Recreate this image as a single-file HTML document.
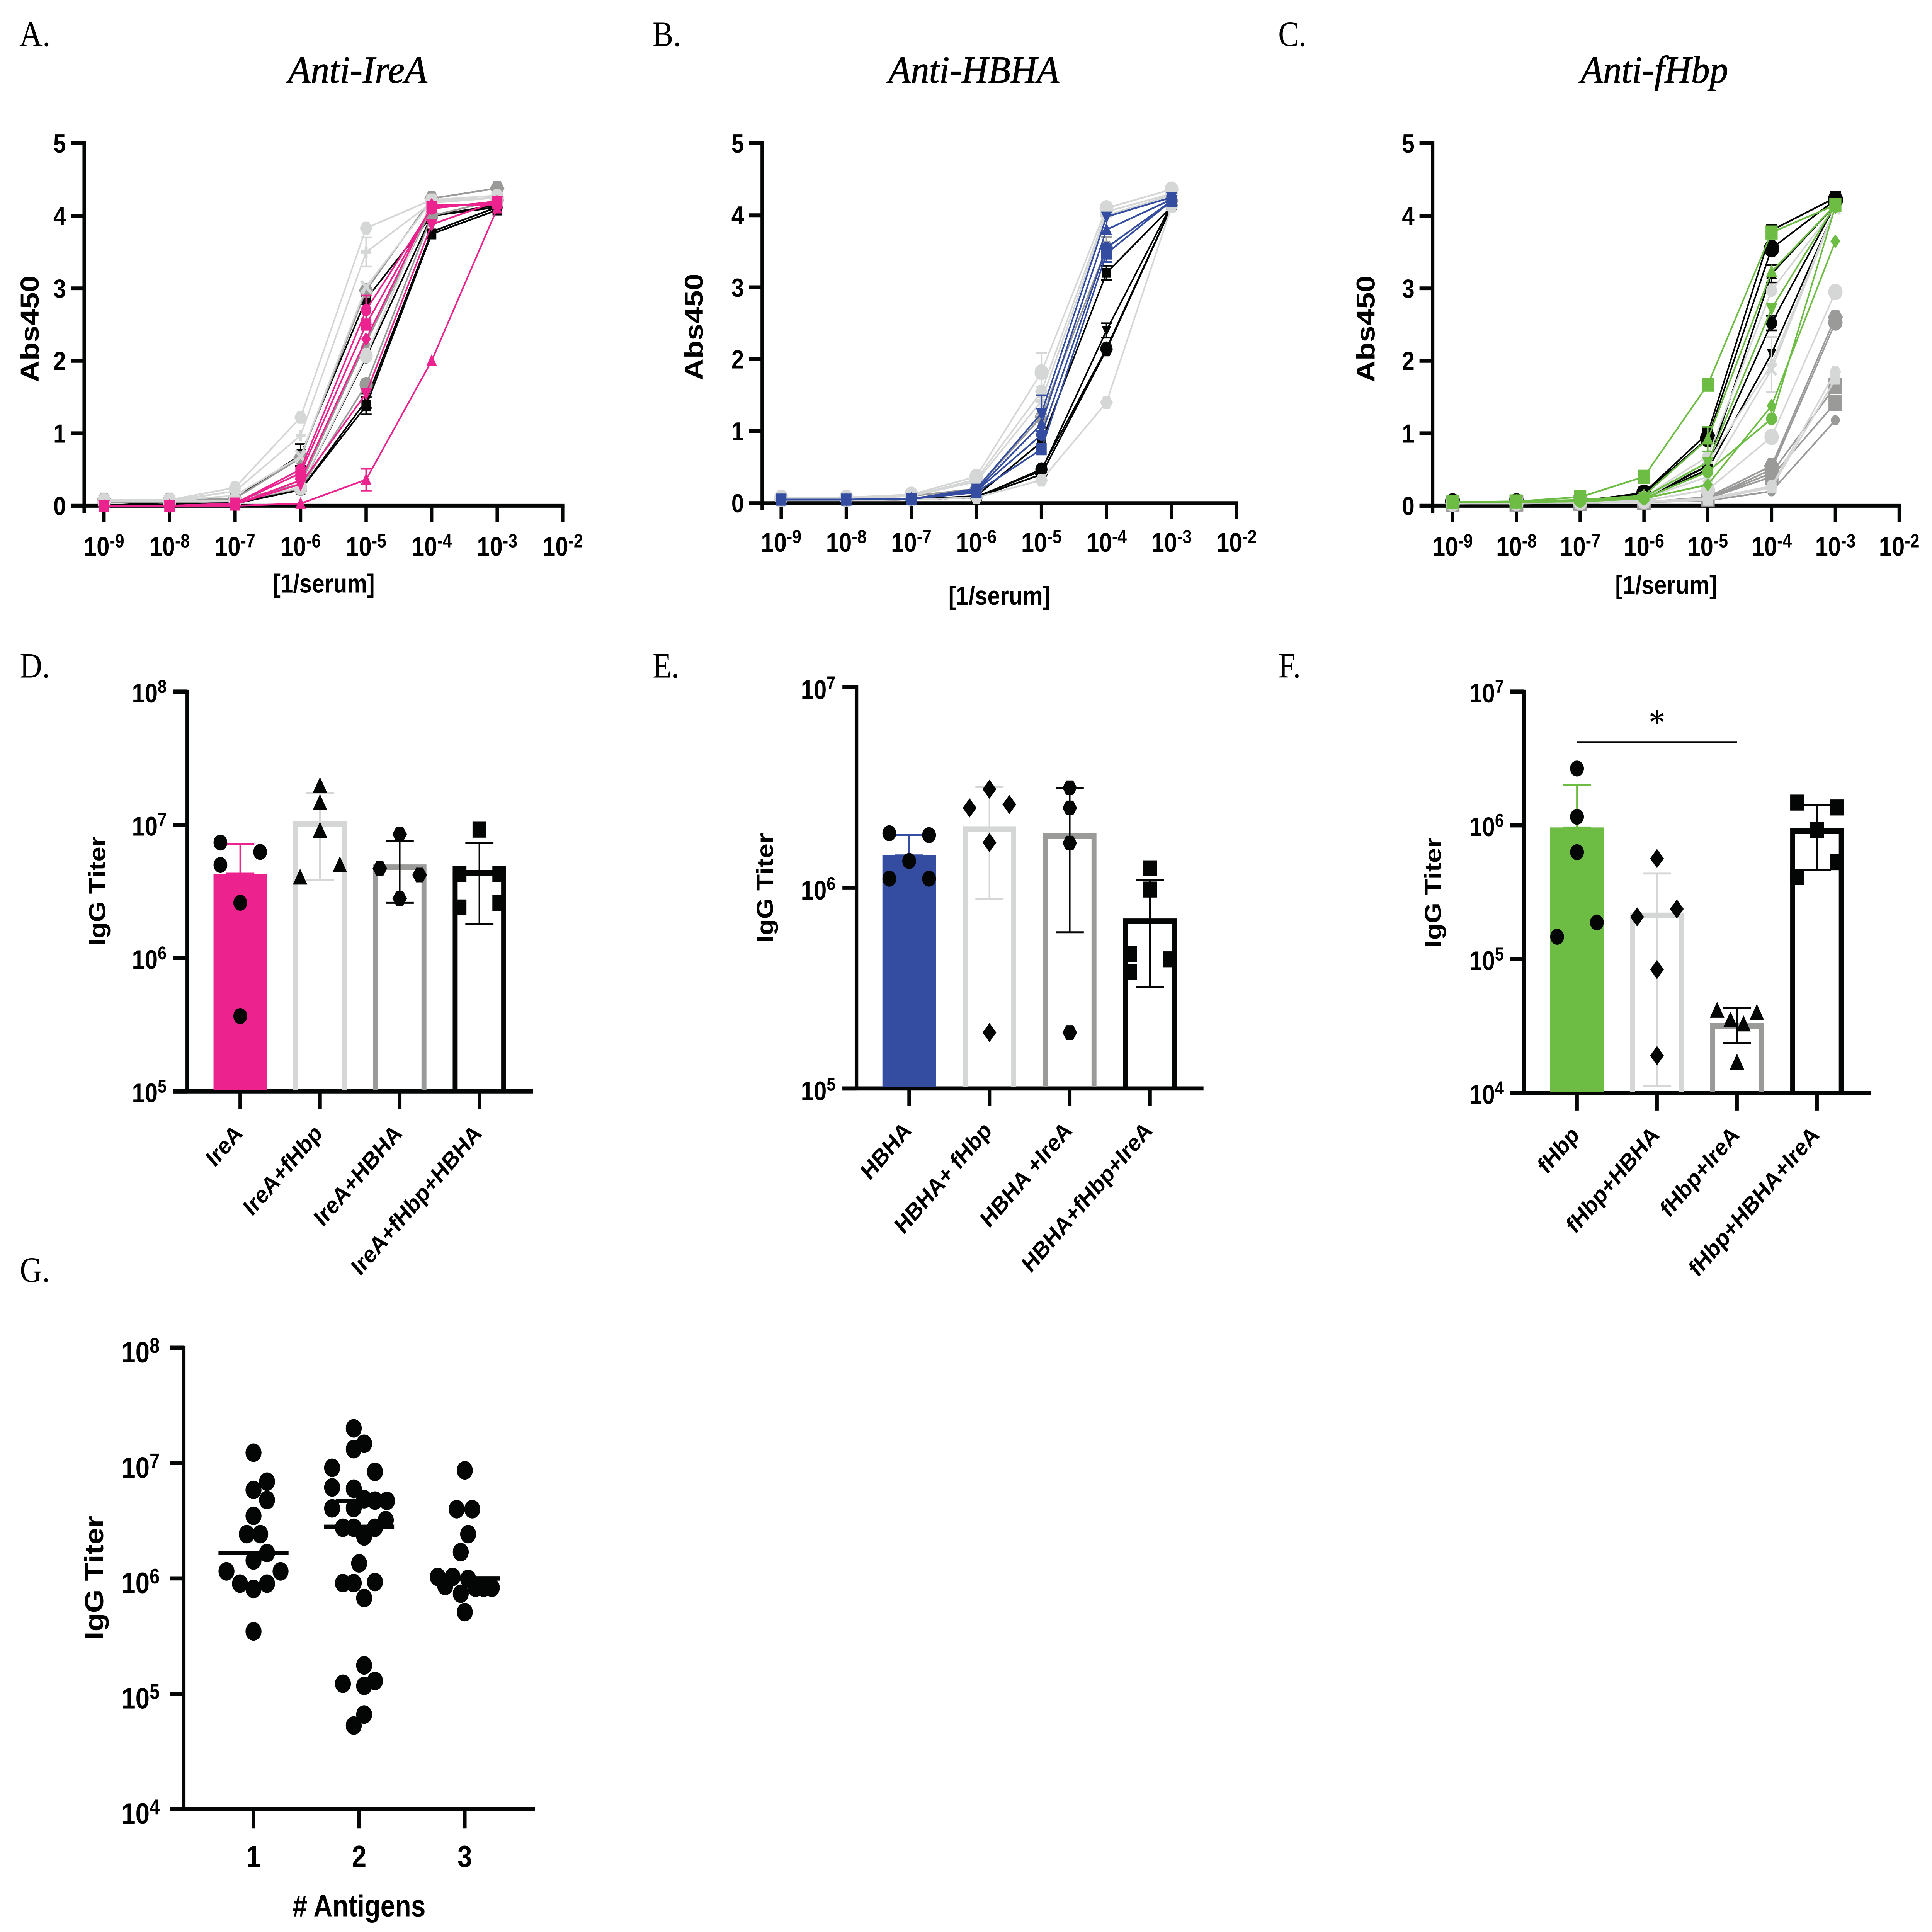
<!DOCTYPE html>
<html lang="en">
<head>
<meta charset="utf-8">
<title>IgG titer figure</title>
<style>
html,body{margin:0;padding:0;background:#fff;width:100%;height:100%;overflow:hidden;}
svg{display:block;width:100vw;height:100vh;}
text{font-family:"Liberation Sans",sans-serif;fill:#000;}
.serif{font-family:"Liberation Serif",serif;font-weight:400;}
.title{font-family:"Liberation Serif",serif;font-style:italic;font-size:120px;stroke:#000;stroke-width:1.5px;}
.letter{font-family:"Liberation Serif",serif;font-size:112px;}
.bold{font-weight:700;}
</style>
</head>
<body>
<svg id="fig" xmlns="http://www.w3.org/2000/svg" viewBox="0 0 7004 6051" preserveAspectRatio="none">
<rect x="0" y="0" width="7004" height="6051" fill="#fff"/>
<text class="letter" x="70" y="144" textLength="113" lengthAdjust="spacingAndGlyphs">A.</text>
<text class="letter" x="2366" y="144">B.</text>
<text class="letter" x="4634" y="144">C.</text>
<text class="letter" x="72" y="2122">D.</text>
<text class="letter" x="2366" y="2122">E.</text>
<text class="letter" x="4634" y="2122">F.</text>
<text class="letter" x="72" y="4014">G.</text>
<text class="title" x="1044" y="259" textLength="505" lengthAdjust="spacingAndGlyphs">Anti-IreA</text>
<text class="title" x="3221" y="259" textLength="619" lengthAdjust="spacingAndGlyphs">Anti-HBHA</text>
<text class="title" x="5730" y="259" textLength="535" lengthAdjust="spacingAndGlyphs">Anti-fHbp</text>
<g id="panel-a"></g>
<g id="panel-b"></g>
<g id="panel-c"></g>
<g id="panel-d"></g>
<g id="panel-e"></g>
<g id="panel-f"></g>
<g id="panel-g"></g>
</svg>
<script>
/* ---------- shared axis data ---------- */
const dilutionPoints = [-9,-8,-7,-6,-5,-4,-3];
const dilutionTicks = [-9,-8,-7,-6,-5,-4,-3,-2];
const absTicks = [0,1,2,3,4,5];

/* ---------- panel A values ---------- */
const aValues = [
 [0,0,0.03,0.22,1.38,3.75,4.08],
 [0,0.02,0.04,0.22,1.45,3.78,4.12],
 [0,0,0.05,0.25,2.05,4.0,4.12],
 [0,0.05,0.1,0.7,2.85,4.0,4.15],
 [0.05,0.05,0.06,0.24,1.67,4.0,4.22],
 [0.05,0.05,0.07,0.3,2.25,4.1,4.2],
 [0.08,0.08,0.1,0.66,2.97,4.24,4.38],
 [0.06,0.06,0.07,0.25,2.07,4.2,4.25],
 [0.07,0.07,0.14,0.68,3.02,4.2,4.25],
 [0.07,0.07,0.2,0.97,3.5,4.18,4.25],
 [0.08,0.08,0.25,1.22,3.83,4.22,4.28],
 [0,0,0,0.03,0.36,2.0,4.1],
 [0,0,0.02,0.3,1.55,3.88,4.2],
 [0,0,0.02,0.35,2.3,4.15,4.15],
 [0,0,0.03,0.5,2.7,4.1,4.2],
 [0,0,0.03,0.45,2.5,4.12,4.18]
];
const aErrSeries = [0,1,3,9,14,11];
const aErrPoint = [4,4,3,4,4,4];
const aErrValue = [0.12,0.1,0.15,0.2,0.2,0.15];
const aColors = ['black','black','black','black','gray','gray','gray','light','light','light','light','pink','pink','pink','pink','pink'];
const aShapes = ['square','up','circle','square','circle','up','hex','circle','x','plus','hex','up','down','diamond','circle','square'];
const aSizes = [17,17,20,18,24,20,25,24,22,18,22,18,20,18,19,19];

/* ---------- panel B values ---------- */
const bValues = [
 [0.04,0.05,0.05,0.1,0.85,3.2,4.12],
 [0.04,0.04,0.05,0.08,0.47,2.15,4.13],
 [0.04,0.04,0.05,0.09,0.45,2.4,4.15],
 [0.04,0.04,0.05,0.08,0.4,2.13,4.12],
 [0.05,0.06,0.1,0.2,1.2,3.55,4.2],
 [0.04,0.04,0.05,0.08,0.32,1.4,4.12],
 [0.06,0.06,0.1,0.3,1.42,4.0,4.28],
 [0.06,0.08,0.1,0.33,1.55,4.05,4.3],
 [0.08,0.08,0.12,0.37,1.82,4.1,4.36],
 [0.05,0.05,0.06,0.2,1.25,3.98,4.25],
 [0.05,0.05,0.06,0.18,1.1,3.8,4.22],
 [0.05,0.05,0.06,0.17,0.95,3.55,4.2],
 [0.05,0.05,0.06,0.15,0.75,3.47,4.2]
];
const bErrSeries = [0,2,4,6,8,9,12];
const bErrPoint = [5,5,5,4,4,4,5];
const bErrValue = [0.1,0.1,0.15,0.2,0.27,0.25,0.12];
const bColors = ['black','black','black','black','gray','light','light','light','light','blue','blue','blue','blue'];
const bShapes = ['square','circle','down','hex','hex','hex','plus','hex','circle','down','up','circle','square'];
const bSizes = [15,22,16,22,24,22,22,22,25,19,19,19,19];

/* ---------- panel C values ---------- */
const cValues = [
 [0.05,0.05,0.06,0.18,1.0,3.8,4.25],
 [0.05,0.05,0.07,0.17,0.93,3.55,4.22],
 [0.04,0.05,0.06,0.12,0.55,3.2,4.15],
 [0.04,0.05,0.06,0.1,0.55,2.52,4.15],
 [0.04,0.05,0.05,0.1,0.5,2.1,4.1],
 [0.03,0.03,0.04,0.05,0.07,0.2,1.18],
 [0.03,0.03,0.04,0.05,0.1,0.4,1.42],
 [0.03,0.04,0.04,0.05,0.1,0.45,1.65],
 [0.03,0.04,0.04,0.05,0.1,0.5,2.53],
 [0.03,0.04,0.04,0.05,0.12,0.55,2.6],
 [0.04,0.05,0.05,0.12,0.68,2.97,4.12],
 [0.04,0.05,0.05,0.1,0.6,1.95,4.12],
 [0.04,0.04,0.05,0.1,0.4,1.88,4.1],
 [0.03,0.04,0.05,0.07,0.22,0.95,2.95],
 [0.03,0.04,0.04,0.05,0.08,0.25,1.75],
 [0.03,0.04,0.04,0.06,0.1,0.27,1.85],
 [0.05,0.05,0.06,0.1,0.29,1.38,3.65],
 [0.05,0.05,0.06,0.1,0.47,1.2,4.13],
 [0.05,0.05,0.07,0.12,0.6,2.72,4.15],
 [0.05,0.06,0.08,0.14,0.92,3.23,4.15],
 [0.05,0.06,0.12,0.4,1.67,3.77,4.15]
];
const cErrSeries = [0,0,2,3,11,19];
const cErrPoint = [5,6,5,5,5,4];
const cErrValue = [0.07,0.08,0.12,0.1,0.38,0.17];
const cColors = ['black','black','black','black','black','gray','gray','gray','gray','gray','light','light','light','light','light','light','green','green','green','green','green'];
const cShapes = ['square','circle','up','circle','down','circle','square','square','circle','hex','circle','plus','x','circle','square','hex','diamond','circle','down','up','square'];
const cSizes = [20,28,18,20,16,16,25,25,26,26,20,18,20,26,18,20,18,20,20,20,22];

/* ---------- panels D, E, F values ---------- */
const dCategories = ['IreA','IreA+fHbp','IreA+HBHA','IreA+fHbp+HBHA'];
const dBars = [4.3e6,1.01e7,4.8e6,4.35e6];
const dErrHigh = [7.17e6,1.74e7,7.57e6,7.36e6];
const dErrLow = [4.3e6,3.85e6,2.6e6,1.79e6];
const dPoints = [[7.36e6,6.26e6,5.0e6,2.6e6,3.67e5],[1.95e7,1.45e7,9.0e6,4.96e6,4.0e6],[8.5e6,4.2e6,4.7e6,2.8e6],[9.2e6,4.27e6,4.27e6,2.4e6,2.6e6]];
const dRanks = [[-1,1,-1,0,0],[0,0,0,1,-1],[0,1,-1,0],[0,-1,1,-1,1]];
const dExpTicks = [5,6,7,8];

const eCategories = ['HBHA','HBHA+ fHbp','HBHA +IreA','HBHA+fHbp+IreA'];
const eBars = [1.45e6,1.96e6,1.81e6,6.8e5];
const eErrHigh = [1.83e6,3.17e6,3.15e6,1.09e6];
const eErrLow = [1.45e6,8.8e5,6.0e5,3.2e5];
const ePoints = [[1.87e6,1.83e6,1.36e6,1.11e6,1.11e6],[3.1e6,2.6e6,2.5e6,1.68e6,1.9e5],[3.15e6,2.5e6,1.67e6,1.9e5],[1.25e6,9.8e5,4.67e5,4.4e5,3.8e5]];
const eRanks = [[-1,1,0,-1,1],[0,1,-1,0,0],[0,0,0,0],[0,0,-1,1,-1]];
const eExpTicks = [5,6,7];

const fCategories = ['fHbp','fHbp+HBHA','fHbp+IreA','fHbp+HBHA+IreA'];
const fBars = [9.65e5,2.12e5,3.18e4,9.04e5];
const fErrHigh = [2.0e6,4.36e5,4.3e4,1.41e6];
const fErrLow = [9.65e5,1.12e4,2.37e4,4.65e5];
const fPoints = [[2.66e6,1.16e6,6.3e5,1.88e5,1.47e5],[5.65e5,2.37e5,2.07e5,8.36e4,1.9e4],[4.1e4,3.95e4,3.47e4,3.24e4,1.68e4],[1.48e6,1.36e6,9.2e5,5.3e5,4.1e5]];
const fRanks = [[0,0,0,1,-1],[0,1,-1,0,0],[-1,1,-0.33,0.33,0],[-1,1,0,1,-1]];
const fExpTicks = [4,5,6,7];

/* ---------- panel G values ---------- */
const gCategories = ['1','2','3'];
const gExpTicks = [4,5,6,7,8];
const gGroup1 = [1.23e7,6.9e6,5.85e6,4.78e6,3.49e6,2.42e6,2.42e6,1.66e6,1.43e6,1.15e6,1.15e6,9.0e5,9.0e5,8.1e5,3.47e5];
const gGroup1Ranks = [0,1,0,1,0,-0.5,0.5,1,0,-2,2,-1,1,0,0];
const gGroup2 = [2.0e7,1.47e7,1.32e7,9.1e6,8.4e6,6.15e6,6.0e6,4.86e6,4.73e6,4.7e6,4.05e6,4.08e6,3.2e6,2.75e6,2.75e6,2.75e6,2.31e6,1.35e6,9.1e5,9.1e5,9.3e5,6.75e5,1.76e5,1.22e5,1.17e5,1.29e5,6.6e4,5.3e4];
const gGroup2Ranks = [-0.4,0.37,-0.4,-2,1.17,-2,-0.4,0.37,1.17,2.06,-2,-0.4,1.97,-1.2,-0.4,1.17,0.37,0,-1.2,-0.4,1.17,0.37,0.37,-1.2,0.37,1.17,0.37,-0.4];
const gGroup3 = [8.65e6,3.98e6,3.98e6,2.42e6,1.69e6,1.03e6,1.03e6,9.9e5,8.6e5,8.3e5,8.3e5,8.3e5,7.36e5,5.1e5];
const gGroup3Ranks = [0,-0.6,0.55,0.25,-0.3,-2,-0.9,0.25,-1.45,0.8,1.4,2,-0.3,0];
const gLines = [1.66e6,2.8e6,1.0e6];
const gUpperLine = 4.67e6;

/* ---------- styling ---------- */
const palette = {black:'#040606',gray:'#9a9a98',light:'#d5d7d6',pink:'#ec238f',blue:'#344da0',green:'#6dbd45'};
const SVGNS = 'http://www.w3.org/2000/svg';
const AXIS_W = 12;

function make(tag, attrs, parent, text){
  const el = document.createElementNS(SVGNS, tag);
  for (const k in attrs) el.setAttribute(k, attrs[k]);
  if (text !== undefined) el.textContent = text;
  parent.appendChild(el);
  return el;
}
function drawLine(parent,x1,y1,x2,y2,color,w,name){
  const el = make('line',{x1,y1,x2,y2,stroke:color,'stroke-width':w},parent);
  
  
  return el;
}
function drawText(parent,x,y,str,size,anchor,cls,name,extra){
  const a = Object.assign({x,y,'font-size':size,'text-anchor':anchor,'class':cls},extra||{});
  const el = make('text',a,parent,str);
  
  
  return el;
}
function drawPower(parent,x,y,exp,size,supSize,rise,anchor,name){
  const el = make('text',{x,y,'font-size':size,'text-anchor':anchor,'class':'bold'},parent);
  
  
  make('tspan',{},el,'10');
  make('tspan',{'font-size':supSize,dy:-rise},el,String(exp));
  return el;
}
function drawMarker(parent,shape,cx,cy,r,color,name){
  let el;
  const pts = list => list.map(p => (cx+p[0]*r)+','+(cy+p[1]*r)).join(' ');
  if (shape==='circle') el = make('circle',{cx,cy,r,fill:color},parent);
  else if (shape==='square') el = make('rect',{x:cx-r,y:cy-r,width:2*r,height:2*r,fill:color},parent);
  else if (shape==='up') el = make('polygon',{points:pts([[0,-1.15],[1.05,0.85],[-1.05,0.85]]),fill:color},parent);
  else if (shape==='down') el = make('polygon',{points:pts([[0,1.15],[1.05,-0.85],[-1.05,-0.85]]),fill:color},parent);
  else if (shape==='diamond') el = make('polygon',{points:pts([[0,-1.2],[1,0],[0,1.2],[-1,0]]),fill:color},parent);
  else if (shape==='hex') el = make('polygon',{points:pts([[-0.5,-0.92],[0.5,-0.92],[1.05,0],[0.5,0.92],[-0.5,0.92],[-1.05,0]]),fill:color},parent);
  else if (shape==='plus') el = make('polygon',{points:pts([[-0.3,-1],[0.3,-1],[0.3,-0.3],[1,-0.3],[1,0.3],[0.3,0.3],[0.3,1],[-0.3,1],[-0.3,0.3],[-1,0.3],[-1,-0.3],[-0.3,-0.3]]),fill:color},parent);
  else el = make('polygon',{points:pts([[-1,-0.75],[-0.65,-1],[0,-0.35],[0.65,-1],[1,-0.75],[0.35,0],[1,0.75],[0.65,1],[0,0.35],[-0.65,1],[-1,0.75],[-0.35,0]]),fill:color},parent);
  
  
  return el;
}
function drawErrorBar(parent,x,yHigh,yLow,color,capHalf,w,name){
  const g = make('g',{},parent);
  
  
  drawLine(g,x,yHigh,x,yLow,color,w,name+'-stem');
  drawLine(g,x-capHalf,yHigh,x+capHalf,yHigh,color,w,name+'-cap-high');
  drawLine(g,x-capHalf,yLow,x+capHalf,yLow,color,w,name+'-cap-low');
  return g;
}
function linearScale(d0,d1,r0,r1){ return v => r0+(v-d0)*(r1-r0)/(d1-d0); }
function logScale(e0,e1,r0,r1){ const s = linearScale(e0,e1,r0,r1); return v => s(Math.log10(v)); }
function bandScale(start,step){ return i => start+i*step; }

/* ---------- curve panels (A, B, C) ---------- */
function curvePanel(id,key,geo,values,colors,shapes,sizes,errS,errP,errV){
  const root = document.getElementById(id);
  const x = linearScale(-9,-2,geo.x9,geo.x2);
  const y = linearScale(0,5,geo.y0,geo.y5);
  const axes = make('g',{},root);
  
  
  drawLine(axes,geo.axisX,geo.y5-6,geo.axisX,geo.y0+22,palette.black,AXIS_W,key+'-y-axis');
  drawLine(axes,geo.axisX-48,geo.y0,geo.x2+6,geo.y0,palette.black,AXIS_W,key+'-x-axis');
  absTicks.forEach(t => {
    drawLine(axes,geo.axisX-48,y(t),geo.axisX,y(t),palette.black,AXIS_W,key+'-y-tick-'+t);
    drawText(axes,geo.axisX-66,y(t)+29,String(t),82,'end','bold',key+'-y-tick-label-'+t);
  });
  dilutionTicks.forEach(t => {
    drawLine(axes,x(t),geo.y0,x(t),geo.y0+50,palette.black,AXIS_W,key+'-x-tick-'+t);
    drawPower(axes,x(t),geo.tickBase,t,84,60,27,'middle',key+'-x-tick-label-'+t);
  });
  drawText(axes,geo.xTitleX,geo.xTitleY,'[1/serum]',82,'middle','bold',key+'-x-axis-title');
  drawText(axes,0,0,'Abs450',94,'middle','bold',key+'-y-axis-title',{transform:'translate('+(geo.yTitleX+34)+' '+geo.yTitleY+') rotate(-90)'});
  values.forEach((series,s) => {
    const g = make('g',{},root);
    
    
    const c = palette[colors[s]];
    const path = make('polyline',{points:series.map((v,i)=>x(dilutionPoints[i])+','+y(v)).join(' '),fill:'none',stroke:c,'stroke-width':5.5},g);
    
    
    errS.forEach((es,k) => {
      if (es!==s) return;
      const v = series[errP[k]];
      drawErrorBar(g,x(dilutionPoints[errP[k]]),y(v+errV[k]),y(v-errV[k]),c,20,5.5,key+'-series-'+(s+1)+'-error');
    });
    series.forEach((v,i) => drawMarker(g,shapes[s],x(dilutionPoints[i]),y(v),sizes[s],c,key+'-point-'+(s+1)+'-'+(i+1)));
  });
}
const layoutA = {axisX:305,y5:449,y0:1584,x9:377,x2:2040,tickBase:1741,xTitleX:1174,xTitleY:1856,yTitleX:106,yTitleY:1030};
const layoutB = {axisX:2763,y5:449,y0:1576,x9:2832,x2:4483,tickBase:1728,xTitleX:3623,xTitleY:1894,yTitleX:2514,yTitleY:1024};
const layoutC = {axisX:5194,y5:449,y0:1584,x9:5266,x2:6885,tickBase:1741,xTitleX:6040,xTitleY:1860,yTitleX:4949,yTitleY:1030};
curvePanel('panel-a','a',layoutA,aValues,aColors,aShapes,aSizes,aErrSeries,aErrPoint,aErrValue);
curvePanel('panel-b','b',layoutB,bValues,bColors,bShapes,bSizes,bErrSeries,bErrPoint,bErrValue);
curvePanel('panel-c','c',layoutC,cValues,cColors,cShapes,cSizes,cErrSeries,cErrPoint,cErrValue);

/* ---------- log-axis frame shared by D to G ---------- */
function logAxes(root,key,geo,exps,y){
  const axes = make('g',{},root);
  
  
  drawLine(axes,geo.axisX,geo.yTop-6,geo.axisX,geo.yBase+6,palette.black,13,key+'-y-axis');
  drawLine(axes,geo.axisX-51,geo.yBase,geo.xEnd,geo.yBase,palette.black,13,key+'-x-axis');
  exps.forEach(e => {
    drawLine(axes,geo.axisX-51,y(Math.pow(10,e)),geo.axisX,y(Math.pow(10,e)),palette.black,13,key+'-y-tick-'+e);
    drawPower(axes,geo.labelEnd,y(Math.pow(10,e))+geo.labelDrop,e,geo.tickSize,geo.supSize,30,'end',key+'-y-tick-label-'+e);
  });
  drawText(axes,0,0,'IgG Titer',geo.yTitleSize,'middle','bold',key+'-y-axis-title',{transform:'translate('+(geo.yTitleX+30)+' '+geo.yTitleY+') rotate(-90)'});
}

/* ---------- bar panels (D, E, F) ---------- */
function barPanel(id,key,geo,cats,bars,hi,lo,points,ranks,exps,mainColor,shapes){
  const root = document.getElementById(id);
  const y = logScale(exps[0],exps[exps.length-1],geo.yBase,geo.yTop);
  const x = bandScale(geo.x0,geo.step);
  const outline = [mainColor,'light','gray','black'];
  const errColor = [mainColor,'light','black','black'];
  logAxes(root,key,geo,exps,y);
  cats.forEach((name,i) => {
    const cx = x(i);
    const g = make('g',{},root);
    
    
    const top = y(bars[i]);
    let bar;
    if (i===0) bar = make('rect',{x:cx-97,y:top,width:194,height:geo.yBase-top-4,fill:palette[outline[i]]},g);
    else bar = make('path',{d:'M'+(cx-88)+' '+(geo.yBase-4)+'V'+top+'H'+(cx+88)+'V'+(geo.yBase-4),fill:'none',stroke:palette[outline[i]],'stroke-width':18},g);
    
    
    drawErrorBar(g,cx,y(hi[i]),y(lo[i]),palette[errColor[i]],51,6,key+'-error-'+(i+1));
    points[i].forEach((v,j) => drawMarker(g,shapes[i],cx+ranks[i][j]*72,y(v),25,palette.black,key+'-point-'+(i+1)+'-'+(j+1)));
    drawLine(g,cx,geo.yBase,cx,geo.yBase+55,palette.black,13,key+'-x-tick-'+(i+1));
    drawText(g,0,0,name,76,'end','bold',key+'-x-tick-label-'+(i+1),{transform:'translate('+(cx+12)+' '+(geo.yBase+136)+') rotate(-45)'});
  });
}
const layoutD = {axisX:679,yTop:2166,yBase:3418,xEnd:1933,x0:871,step:289,labelEnd:604,labelDrop:34,tickSize:84,supSize:58,yTitleX:352,yTitleY:2791,yTitleSize:84};
const layoutE = {axisX:3105,yTop:2152,yBase:3409,xEnd:4363,x0:3296,step:291,labelEnd:3029,labelDrop:37,tickSize:84,supSize:58,yTitleX:2772,yTitleY:2781,yTitleSize:84};
const layoutF = {axisX:5524,yTop:2166,yBase:3423,xEnd:6783,x0:5717,step:290,labelEnd:5452,labelDrop:34,tickSize:84,supSize:58,yTitleX:5194,yTitleY:2795,yTitleSize:84};
barPanel('panel-d','d',layoutD,dCategories,dBars,dErrHigh,dErrLow,dPoints,dRanks,dExpTicks,'pink',['circle','up','hex','square']);
barPanel('panel-e','e',layoutE,eCategories,eBars,eErrHigh,eErrLow,ePoints,eRanks,eExpTicks,'blue',['circle','diamond','hex','square']);
barPanel('panel-f','f',layoutF,fCategories,fBars,fErrHigh,fErrLow,fPoints,fRanks,fExpTicks,'green',['circle','diamond','up','square']);

/* significance marker in panel F */
(function(){
  const root = document.getElementById('panel-f');
  const x = bandScale(layoutF.x0,layoutF.step);
  drawLine(root,x(0),2324,x(2),2324,palette.black,5,'significance-line');
  drawText(root,(x(0)+x(2))/2,2303,'*',120,'middle','serif','significance-asterisk');
})();

/* ---------- scatter panel G ---------- */
(function(){
  const geo = {axisX:666,yTop:4221,yBase:5666,xEnd:1940,labelEnd:579,labelDrop:46,tickSize:92,supSize:66,yTitleX:344,yTitleY:4942,yTitleSize:95};
  const root = document.getElementById('panel-g');
  const y = logScale(4,8,geo.yBase,geo.yTop);
  const x = bandScale(919,383);
  logAxes(root,'g',geo,gExpTicks,y);
  const groups = [gGroup1,gGroup2,gGroup3];
  const ranks = [gGroup1Ranks,gGroup2Ranks,gGroup3Ranks];
  groups.forEach((vals,i) => {
    const g = make('g',{},root);
    
    
    vals.forEach((v,j) => drawMarker(g,'circle',x(i)+ranks[i][j]*49,y(v),29,palette.black,'g-point-'+gCategories[i]+'-'+(j+1)));
    drawLine(g,x(i)-127,y(gLines[i]),x(i)+127,y(gLines[i]),palette.black,14,'g-center-line-'+gCategories[i]);
    drawLine(g,x(i),geo.yBase,x(i),geo.yBase+61,palette.black,13,'g-x-tick-'+gCategories[i]);
    drawText(g,x(i),5847,gCategories[i],95,'middle','bold','g-x-tick-label-'+gCategories[i]);
  });
  drawLine(root,x(1)-85,y(gUpperLine),x(1)+127,y(gUpperLine),palette.black,14,'g-upper-line-2');
  drawText(root,1302,6002,'# Antigens',95,'middle','bold','g-x-axis-title');
})();
</script>
</body>
</html>
